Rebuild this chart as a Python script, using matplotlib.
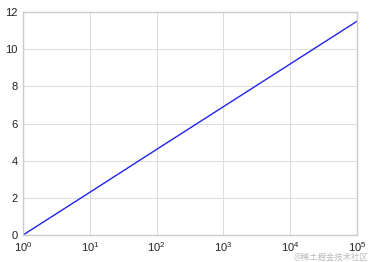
import matplotlib
matplotlib.use("Agg")
import matplotlib.pyplot as plt

x_vals = [1, 10, 100, 1000, 10000, 100000]
y_vals = [0.0, 2.30, 4.61, 6.91, 9.21, 11.51]
y_ticks = [0, 2, 4, 6, 8, 10, 12]

plt.rcParams['font.family'] = ['Liberation Sans', 'DejaVu Sans']
fig = plt.figure(figsize=(3.72, 2.62), dpi=100)
ax = fig.add_axes([0.062, 0.103, 0.898, 0.851])
ax.plot(x_vals, y_vals, color='#2222ee', lw=1.0)
ax.set_xscale('log')
ax.set_xlim(1, 1e5)
ax.set_ylim(0, 12)
ax.set_yticks(y_ticks)
ax.grid(True, color='#dddddd', lw=0.8)
ax.set_axisbelow(True)
for s in ax.spines.values():
    s.set_color('#cccccc')
    s.set_linewidth(1.0)
ax.tick_params(axis='both', which='both', length=0, labelsize=8, colors='#222222', pad=4)
ax.tick_params(axis='x', which='minor', length=0)
fig.text(0.99, 0.0, '@稀土掘金技术社区', ha='right', va='bottom', fontsize=6,
         color='#bbbbbb', family=['Noto Sans CJK SC', 'DejaVu Sans'])
fig.savefig('out.png', dpi=100)
